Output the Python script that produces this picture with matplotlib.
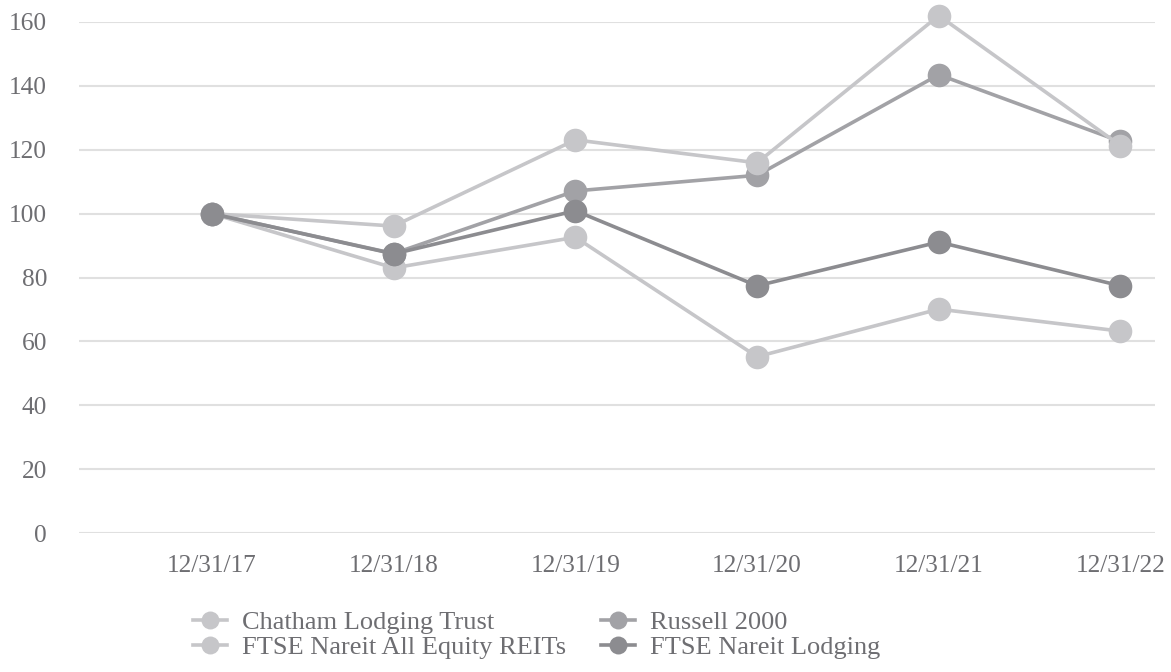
import matplotlib
matplotlib.use("Agg")
import matplotlib.pyplot as plt

dates = ["12/31/17", "12/31/18", "12/31/19", "12/31/20", "12/31/21", "12/31/22"]
chatham = [100, 83.0, 92.6, 55.2, 70.1, 63.2]
russell = [100, 87.5, 107.1, 112.0, 143.5, 122.6]
reits = [100, 96.1, 123.1, 115.9, 162.0, 121.3]
lodging = [100, 87.4, 100.9, 77.4, 91.1, 77.4]

names = ["Chatham Lodging Trust", "Russell 2000", "FTSE Nareit All Equity REITs", "FTSE Nareit Lodging"]
colors = ["#c6c6c9", "#a2a2a6", "#c6c6c9", "#8c8c90"]
series = [chatham, russell, reits, lodging]

text_color = "#6e6e72"
plt.rcParams['font.family'] = ['Liberation Serif', 'DejaVu Serif']

fig = plt.figure(figsize=(11.71, 6.72), dpi=100)
ax = fig.add_axes([79/1171, 1-533/672, (1155-79)/1171, (533-22)/672])

x = list(range(len(dates)))
handles = {}
for name, vals, c in zip(names, series, colors):
    h, = ax.plot(x, vals, color=c, lw=2.6, marker='o', markersize=17,
                 markeredgewidth=0, clip_on=False, label=name)
    handles[name] = h

ax.set_ylim(0, 160)
ax.set_xlim(-0.732, 5.19)
ax.set_yticks(range(0, 161, 20))
ax.set_xticks(x)
ax.set_xticklabels(dates)
ax.yaxis.grid(True, color="#e0e0e0", lw=1.5)
ax.set_axisbelow(True)
for s in ax.spines.values():
    s.set_visible(False)
ax.tick_params(axis='both', length=0, labelsize=18.3, colors=text_color)
ax.tick_params(axis='y', pad=23)
ax.tick_params(axis='x', pad=16)

order = ["Chatham Lodging Trust", "FTSE Nareit All Equity REITs", "Russell 2000", "FTSE Nareit Lodging"]
leg = fig.legend([handles[n] for n in order], order, ncol=2, loc='upper left',
                 bbox_to_anchor=(193/1171, 1-611/672), frameon=False,
                 fontsize=19, handlelength=1.29, handletextpad=0.57,
                 columnspacing=1.33, labelspacing=0.03, markerscale=0.76,
                 borderpad=0, borderaxespad=0)
for t in leg.get_texts():
    t.set_color(text_color)

fig.savefig("out.png", dpi=100)
